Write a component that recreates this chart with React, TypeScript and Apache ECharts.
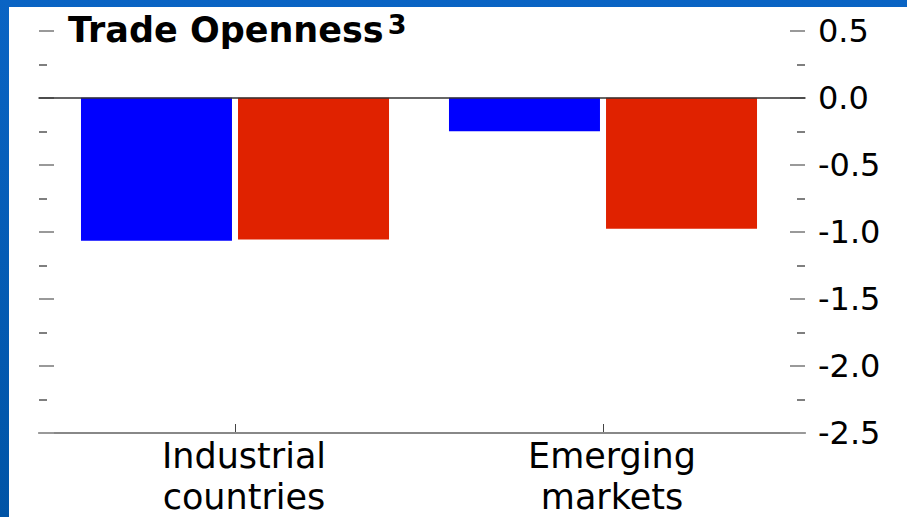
import React, { useEffect, useRef } from "react";
import * as echarts from "echarts";

const categories = ["Industrial\ncountries", "Emerging\nmarkets"];
const blueValues = [-1.07, -0.25];
const redValues = [-1.06, -0.98];
const yMin = -2.5;
const yMax = 0.5;
const yStep = 0.5;
const titleMain = "Trade Openness";
const titleSup = "3";

const FONT = "DejaVu Sans";

export default function App() {
  const ref = useRef<HTMLDivElement>(null);
  useEffect(() => {
    if (!ref.current) return;
    const chart = echarts.init(ref.current, null, { renderer: "svg" });
    const noAxisParts = {
      axisLabel: { show: false },
      axisTick: { show: false },
      splitLine: { show: false },
    };
    chart.setOption({
      animation: false,
      backgroundColor: "#ffffff",
      title: {
        text: `{a|${titleMain}}{b|${titleSup}}`,
        left: 59,
        top: 4,
        padding: 0,
        textStyle: {
          rich: {
            a: { fontFamily: FONT, fontSize: 35, fontWeight: "bold", color: "#000", lineHeight: 38 },
            b: { fontFamily: FONT, fontSize: 27, fontWeight: "bold", color: "#000", verticalAlign: "top", lineHeight: 26, padding: [0, 0, 0, 4] },
          },
        },
      },
      grid: [
        { left: 42, right: 120, top: 24, bottom: 84 },
        { left: 30, right: 102, top: 24, bottom: 84 },
      ],
      xAxis: [
        {
          type: "category",
          gridIndex: 0,
          data: categories,
          axisLine: { show: false, onZero: false },
          axisTick: { show: true, alignWithLabel: true, inside: true, length: 8, lineStyle: { color: "#444", width: 1 } },
          axisLabel: {
            interval: 0,
            margin: 3,
            fontFamily: FONT,
            fontSize: 35,
            lineHeight: 41,
            color: "#000",
            padding: [0, 0, 0, 18],
          },
          splitLine: { show: false },
        },
        {
          type: "value",
          gridIndex: 1,
          min: 0,
          max: 1,
          position: "bottom",
          axisLine: { show: true, onZero: false, lineStyle: { color: "#888", width: 2 } },
          ...noAxisParts,
        },
        {
          type: "value",
          gridIndex: 1,
          min: 0,
          max: 1,
          position: "top",
          z: 5,
          axisLine: { show: true, onZero: true, onZeroAxisIndex: 1, lineStyle: { color: "#333", width: 1.5 } },
          ...noAxisParts,
        },
      ],
      yAxis: [
        {
          type: "value",
          gridIndex: 0,
          min: yMin,
          max: yMax,
          interval: yStep,
          show: false,
          axisLine: { show: false, onZero: false },
        },
        {
          type: "value",
          gridIndex: 1,
          position: "left",
          min: yMin,
          max: yMax,
          interval: yStep,
          axisLine: { show: false, onZero: false },
          axisTick: { show: true, inside: true, length: 15, lineStyle: { color: "#999", width: 2 } },
          minorTick: { show: true, splitNumber: 2, length: 8, lineStyle: { color: "#555", width: 1.5 } },
          axisLabel: { show: false },
          splitLine: { show: false },
        },
        {
          type: "value",
          gridIndex: 1,
          position: "right",
          min: yMin,
          max: yMax,
          interval: yStep,
          axisLine: { show: false, onZero: false },
          axisTick: { show: true, inside: true, length: 15, lineStyle: { color: "#999", width: 2 } },
          minorTick: { show: true, splitNumber: 2, length: 8, lineStyle: { color: "#555", width: 1.5 } },
          axisLabel: {
            show: true,
            margin: 13,
            fontFamily: FONT,
            fontSize: 32,
            color: "#000",
            formatter: (v: number) => v.toFixed(1),
          },
          splitLine: { show: false },
        },
      ],
      series: [
        {
          name: "Series 1",
          type: "bar",
          xAxisIndex: 0,
          yAxisIndex: 0,
          data: blueValues,
          barWidth: 151,
          barGap: "4%",
          itemStyle: { color: "#0000ff" },
        },
        {
          name: "Series 2",
          type: "bar",
          xAxisIndex: 0,
          yAxisIndex: 0,
          data: redValues,
          barWidth: 151,
          barGap: "4%",
          itemStyle: { color: "#e02200" },
        },
      ],
    });
    return () => chart.dispose();
  }, []);

  return (
    <div
      style={{
        position: "fixed",
        left: 0,
        top: 0,
        width: 907,
        height: 517,
        background: "linear-gradient(180deg, #0a64c4 0%, #0054a6 100%)",
        overflow: "hidden",
      }}
    >
      <div
        ref={ref}
        style={{ position: "absolute", left: 9, top: 7, width: 898, height: 510, background: "#fff" }}
      />
    </div>
  );
}
